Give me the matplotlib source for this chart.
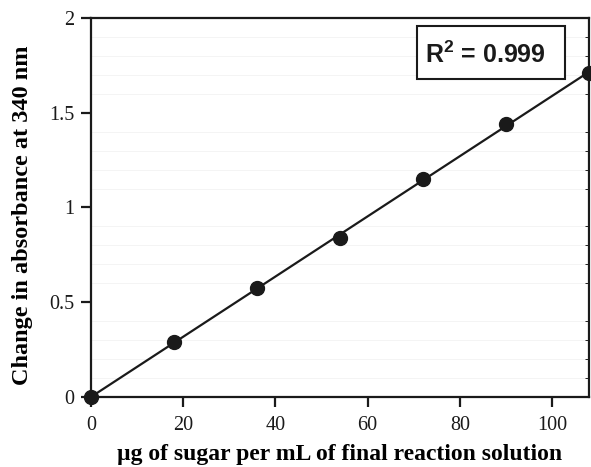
import numpy as np
import matplotlib
matplotlib.use("Agg")
import matplotlib.pyplot as plt
from matplotlib.ticker import MultipleLocator
from matplotlib.patches import Rectangle

sugar = [0, 18, 36, 54, 72, 90, 108]
absorbance = [0.0, 0.29, 0.575, 0.84, 1.15, 1.44, 1.71]
x_ticks = [0, 20, 40, 60, 80, 100]
y_ticks = [0, 0.5, 1, 1.5, 2]
y_tick_labels = ["0", "0.5", "1", "1.5", "2"]

plt.rcParams['mathtext.fontset'] = 'custom'
plt.rcParams['mathtext.bf'] = 'Liberation Sans:bold'
plt.rcParams['mathtext.rm'] = 'Liberation Sans'


def calibration_plot():
    fig = plt.figure(figsize=(5.91, 4.67), dpi=100)
    ax = fig.add_axes([0.154, 0.15, 0.8426, 0.8115])

    slope, intercept = np.polyfit(sugar, absorbance, 1)
    xs = np.array([0, 108])
    ax.plot(xs, slope * xs + intercept, color="#1a1a1a", lw=1.6, zorder=3)
    ax.plot(sugar, absorbance, "o", color="#1a1a1a", ms=10, clip_on=False, zorder=4)

    ax.set_xlim(0, 108)
    ax.set_ylim(0, 2)
    ax.set_xticks(x_ticks)
    ax.set_yticks(y_ticks)
    ax.set_yticklabels(y_tick_labels)
    ax.yaxis.set_minor_locator(MultipleLocator(0.1))
    ax.grid(axis="y", which="minor", color="#f2f2f2", lw=0.6)
    ax.set_axisbelow(True)

    for s in ax.spines.values():
        s.set_linewidth(1.6)
        s.set_color("#1a1a1a")
    ax.tick_params(which="major", direction="out", length=7, width=1.6,
                   labelsize=14.5, colors="#1a1a1a")
    ax.tick_params(axis="x", pad=7)
    ax.tick_params(axis="y", pad=5)
    ax.tick_params(which="minor", left=False, right=True, direction="in",
                   length=3, width=0.6)
    for lab in ax.get_xticklabels() + ax.get_yticklabels():
        lab.set_family("Liberation Serif")

    ax.set_xlabel("\u00b5g of sugar per mL of final reaction solution",
                  family="Liberation Serif", fontweight="bold", fontsize=17,
                  labelpad=6)
    ax.set_ylabel("Change in absorbance at 340 nm",
                  family="Liberation Serif", fontweight="bold", fontsize=17.5)
    ax.yaxis.set_label_coords(-0.117, 0.48)

    ax.add_patch(Rectangle((0.655, 0.839), 0.297, 0.14, transform=ax.transAxes,
                           fill=True, facecolor="white", edgecolor="#1a1a1a",
                           lw=1.5, zorder=5))
    ax.text(0.793, 0.902, r"$\mathbf{R^2}$ = 0.999", transform=ax.transAxes,
            ha="center", va="center", fontsize=18, fontweight="bold",
            family="Liberation Sans", color="#1a1a1a", zorder=6)

    fig.savefig("out.png", dpi=100)


if __name__ == "__main__":
    calibration_plot()
